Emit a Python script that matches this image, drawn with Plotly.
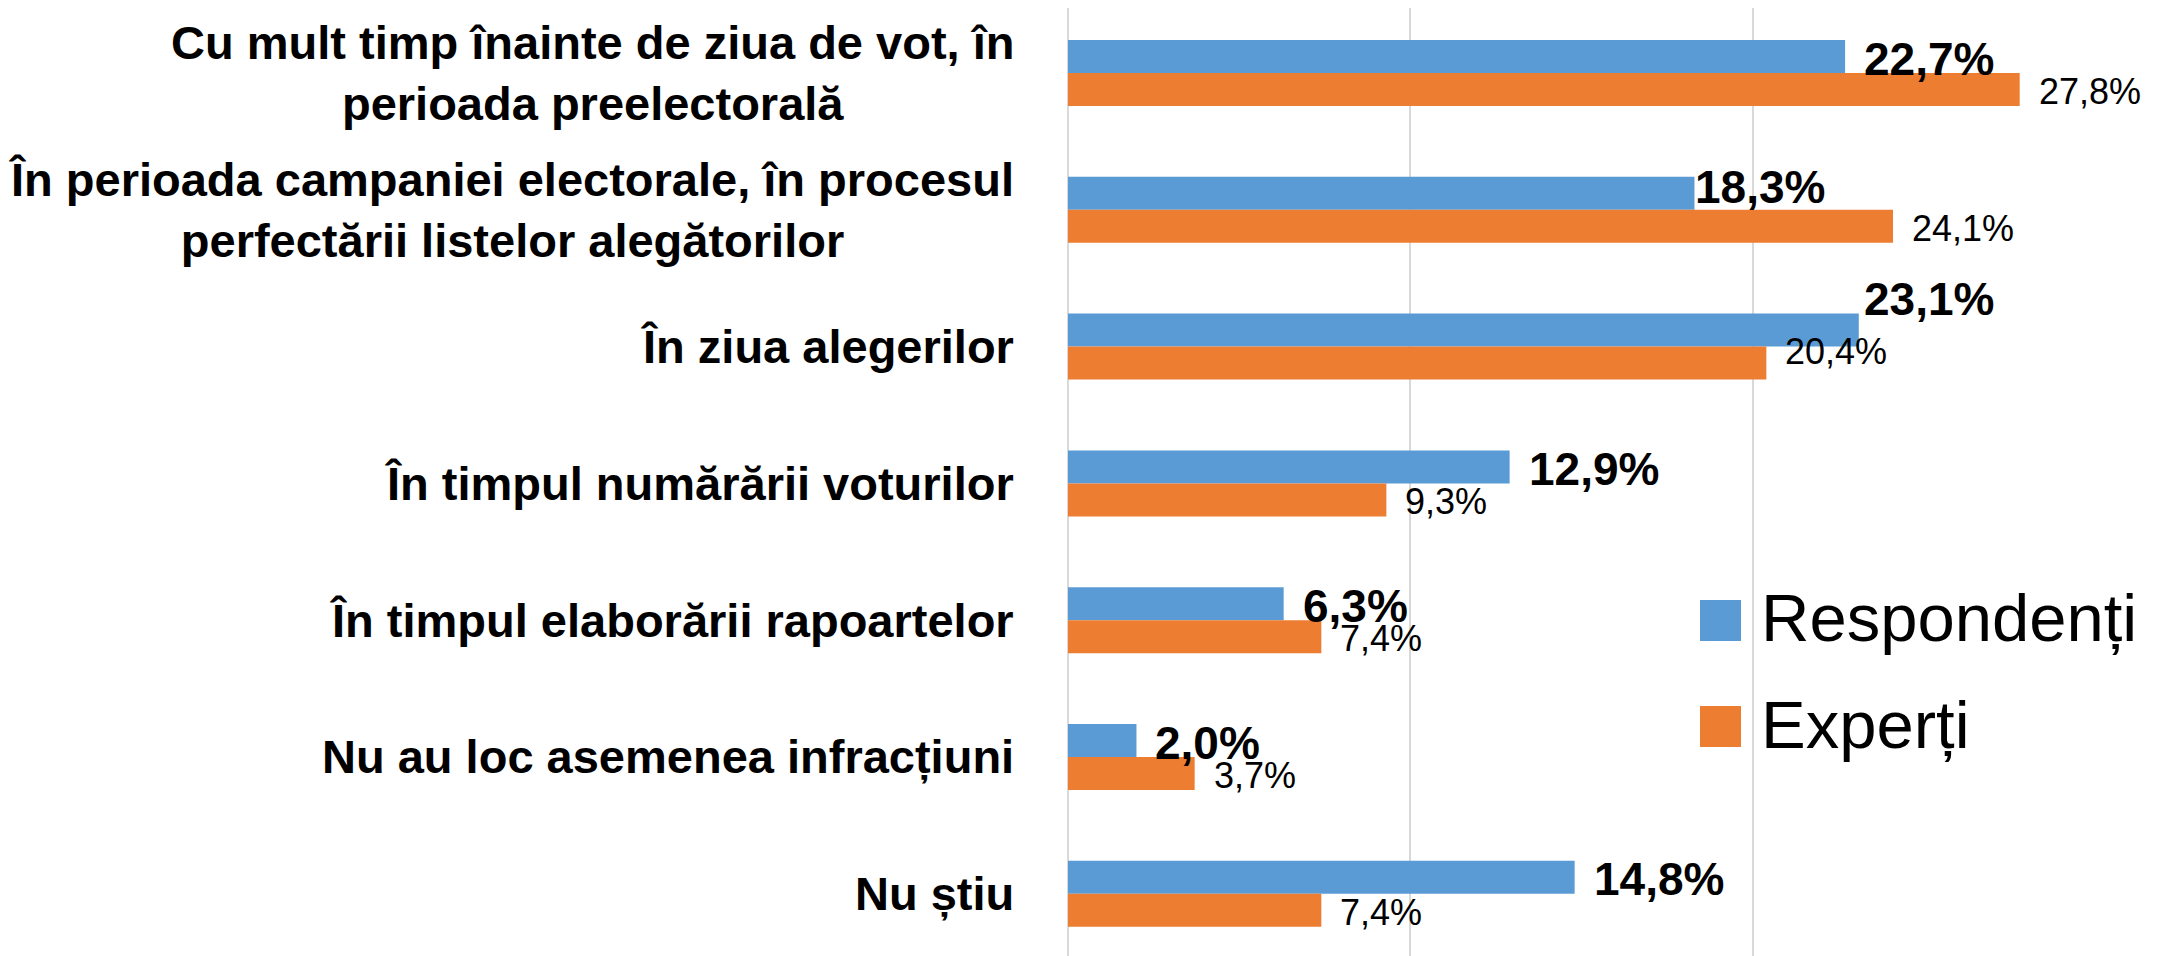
import plotly.graph_objects as go

categories = [
    "Cu mult timp înainte de ziua de vot, în<br>perioada preelectorală",
    "În perioada campaniei electorale, în procesul<br>perfectării listelor alegătorilor",
    "În ziua alegerilor",
    "În timpul numărării voturilor",
    "În timpul elaborării rapoartelor",
    "Nu au loc asemenea infracțiuni",
    "Nu știu",
]
series_names = ["Respondenți", "Experți"]
respondenti = [22.7, 18.3, 23.1, 12.9, 6.3, 2.0, 14.8]
experti = [27.8, 24.1, 20.4, 9.3, 7.4, 3.7, 7.4]

BLUE = "#5B9BD5"
ORANGE = "#ED7D31"
FONT = "Liberation Sans, Arial, sans-serif"

# page body has an 8px margin; the figure is sized so that it fills the window
OFF = 8
W, H = 2165 - OFF, 956 - OFF
L, R, T, B = 1060, 70, 0, 0
pw, ph = W - L - R, H - T - B
BAND = 136.8      # px per category
BAR_PX = 33       # bar thickness in px


def px_x(page_x):
    return (page_x - OFF - L) / pw


def px_y(page_y):
    return (H + OFF - B - page_y) / ph


def fmt(v):
    return f"{v:.1f}".replace(".", ",") + "%"


# small manual label nudges (dx, dy in px; dy positive = down), as in the original
resp_nudge = {1: (-18, -8), 2: (-14, -33)}
exp_nudge = {2: (0, -14)}

fig = go.Figure()
fig.add_trace(go.Bar(y=categories, x=respondenti, orientation="h",
                     name=series_names[0], marker=dict(color=BLUE, line=dict(width=0)),
                     showlegend=False))
fig.add_trace(go.Bar(y=categories, x=experti, orientation="h",
                     name=series_names[1], marker=dict(color=ORANGE, line=dict(width=0)),
                     showlegend=False))

annotations = []
for i, c in enumerate(categories):
    annotations.append(dict(
        x=px_x(1016), xref="paper", y=c, yref="y",
        text=f"<b>{c}</b>", showarrow=False, xanchor="right", yanchor="middle",
        align="center", font=dict(family=FONT, size=47, color="black"),
    ))
    dx, dy = resp_nudge.get(i, (0, 0))
    annotations.append(dict(
        x=respondenti[i], xref="x", y=c, yref="y",
        text=f"<b>{fmt(respondenti[i])}</b>", showarrow=False,
        xanchor="left", yanchor="middle", xshift=17 + dx,
        yshift=BAR_PX / 2 - 2 - dy,
        font=dict(family=FONT, size=46, color="black"),
    ))
    dx, dy = exp_nudge.get(i, (0, 0))
    annotations.append(dict(
        x=experti[i], xref="x", y=c, yref="y",
        text=fmt(experti[i]), showarrow=False,
        xanchor="left", yanchor="middle", xshift=17 + dx,
        yshift=-BAR_PX / 2 - 2 - dy,
        font=dict(family=FONT, size=36, color="black"),
    ))

shapes = []
legend_rows = [(series_names[0], BLUE, 620.5, 617.5), (series_names[1], ORANGE, 726.5, 724)]
for name, col, cy, ty in legend_rows:
    shapes.append(dict(
        type="rect", xref="paper", yref="paper",
        x0=px_x(1700), x1=px_x(1741),
        y0=px_y(cy + 20.5), y1=px_y(cy - 20.5),
        fillcolor=col, line=dict(width=0),
    ))
    annotations.append(dict(
        x=px_x(1759), xref="paper", y=px_y(ty), yref="paper",
        text=name, showarrow=False, xanchor="left", yanchor="middle",
        font=dict(family=FONT, size=67, color="black"),
    ))

top_val = -(73 - OFF - T) / BAND
bot_val = 6 + (956 - 893.8) / BAND

fig.update_layout(
    width=W, height=H,
    margin=dict(l=L, r=R, t=T, b=B, pad=0),
    paper_bgcolor="white", plot_bgcolor="white",
    barmode="group", bargap=1 - 2 * BAR_PX / BAND, bargroupgap=0,
    font=dict(family=FONT, color="black"),
    showlegend=False,
    annotations=annotations, shapes=shapes,
    xaxis=dict(range=[0, 30], dtick=10, showticklabels=False,
               showgrid=True, gridcolor="#D9D9D9", gridwidth=2,
               zeroline=True, zerolinecolor="#D9D9D9", zerolinewidth=2,
               showline=False),
    yaxis=dict(range=[bot_val, top_val], showticklabels=False, showgrid=False,
               zeroline=False, showline=False, type="category"),
)

fig.write_html("out.html")
